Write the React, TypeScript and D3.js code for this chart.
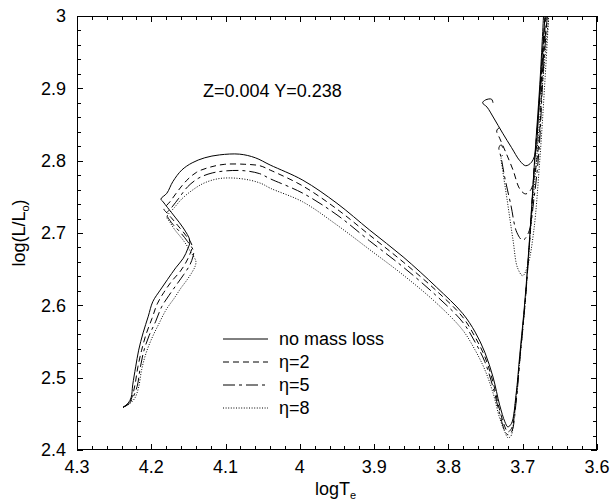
import React from "react";
import * as d3 from "d3";

// ---- axis ticks ----
const xTickValues = [4.3, 4.2, 4.1, 4.0, 3.9, 3.8, 3.7, 3.6];
const xTickLabels = ["4.3", "4.2", "4.1", "4", "3.9", "3.8", "3.7", "3.6"];
const yTickValues = [2.4, 2.5, 2.6, 2.7, 2.8, 2.9, 3.0];
const yTickLabels = ["2.4", "2.5", "2.6", "2.7", "2.8", "2.9", "3"];

// ---- legend ----
const seriesNames = ["no mass loss", "η=2", "η=5", "η=8"];

// ---- tracks: [logTe, log(L/Lsun)] ----
const noMassLossTrack: [number, number][] = [
  [4.238, 2.459], [4.231, 2.465], [4.227, 2.473], [4.225, 2.49], [4.221, 2.515], [4.217, 2.538],
  [4.211, 2.562], [4.204, 2.585], [4.198, 2.605], [4.188, 2.621], [4.178, 2.636], [4.167, 2.652],
  [4.157, 2.665], [4.151, 2.678], [4.148, 2.689],
  [4.157, 2.707], [4.168, 2.722], [4.178, 2.735], [4.184, 2.743], [4.187, 2.747],
  [4.179, 2.755], [4.171, 2.771], [4.159, 2.787], [4.145, 2.797], [4.128, 2.804], [4.108, 2.808],
  [4.081, 2.809], [4.06, 2.804], [4.04, 2.794],
  [3.996, 2.773], [3.95, 2.741], [3.906, 2.704], [3.861, 2.667], [3.816, 2.625], [3.781, 2.589],
  [3.764, 2.563], [3.751, 2.535], [3.74, 2.501], [3.731, 2.462], [3.724, 2.439], [3.72, 2.432],
  [3.715, 2.437], [3.709, 2.476], [3.704, 2.531], [3.697, 2.607], [3.69, 2.704], [3.684, 2.801],
  [3.677, 2.905], [3.672, 3.0],
];
const noMassLossLoop: [number, number][] = [
  [3.67, 3.0], [3.676, 2.912], [3.68, 2.843], [3.682, 2.815], [3.688, 2.798], [3.696, 2.793],
  [3.704, 2.8], [3.715, 2.818], [3.727, 2.838], [3.739, 2.859], [3.748, 2.874], [3.754, 2.88],
  [3.75, 2.884], [3.742, 2.885], [3.74, 2.88],
];

const eta2Track: [number, number][] = [
  [4.238, 2.459], [4.23, 2.465], [4.226, 2.473], [4.222, 2.49], [4.218, 2.515], [4.213, 2.538],
  [4.207, 2.56], [4.199, 2.582], [4.192, 2.602], [4.183, 2.618], [4.172, 2.634], [4.161, 2.647],
  [4.153, 2.66], [4.148, 2.671], [4.145, 2.682],
  [4.153, 2.696], [4.164, 2.71], [4.173, 2.721], [4.18, 2.729], [4.183, 2.733],
  [4.175, 2.743], [4.165, 2.757], [4.153, 2.772], [4.139, 2.784], [4.121, 2.791], [4.101, 2.795],
  [4.074, 2.795], [4.054, 2.793], [4.04, 2.787],
  [3.996, 2.765], [3.95, 2.733], [3.906, 2.697], [3.861, 2.66], [3.816, 2.62], [3.781, 2.584],
  [3.764, 2.556], [3.751, 2.529], [3.74, 2.494], [3.731, 2.455], [3.724, 2.432], [3.72, 2.425],
  [3.715, 2.43], [3.709, 2.469], [3.704, 2.526], [3.697, 2.603], [3.69, 2.701], [3.684, 2.798],
  [3.676, 2.902], [3.67, 3.0],
];
const eta2Loop: [number, number][] = [
  [3.669, 3.0], [3.674, 2.912], [3.678, 2.829], [3.684, 2.78], [3.689, 2.76], [3.696, 2.754],
  [3.704, 2.761], [3.713, 2.787], [3.723, 2.812], [3.731, 2.831], [3.735, 2.841], [3.732, 2.845],
  [3.728, 2.842],
];

const eta5Track: [number, number][] = [
  [4.238, 2.459], [4.23, 2.464], [4.225, 2.472], [4.219, 2.488], [4.215, 2.513], [4.21, 2.537],
  [4.203, 2.558], [4.194, 2.578], [4.186, 2.598], [4.176, 2.614], [4.165, 2.63], [4.156, 2.643],
  [4.148, 2.656], [4.144, 2.667], [4.143, 2.675],
  [4.151, 2.688], [4.161, 2.701], [4.171, 2.712], [4.178, 2.722], [4.18, 2.726],
  [4.172, 2.736], [4.163, 2.748], [4.151, 2.764], [4.136, 2.776], [4.118, 2.783], [4.098, 2.786],
  [4.074, 2.786], [4.054, 2.782], [4.04, 2.775],
  [3.996, 2.755], [3.95, 2.725], [3.906, 2.689], [3.861, 2.653], [3.816, 2.613], [3.781, 2.577],
  [3.764, 2.549], [3.751, 2.522], [3.74, 2.487], [3.731, 2.45], [3.724, 2.426], [3.72, 2.421],
  [3.715, 2.425], [3.709, 2.465], [3.704, 2.523], [3.697, 2.6], [3.69, 2.699], [3.684, 2.795],
  [3.676, 2.9], [3.667, 3.0],
];
const eta5Loop: [number, number][] = [
  [3.667, 3.0], [3.673, 2.912], [3.678, 2.815], [3.685, 2.746], [3.692, 2.701], [3.7, 2.69],
  [3.708, 2.701], [3.716, 2.739], [3.724, 2.776], [3.729, 2.804], [3.732, 2.818], [3.729, 2.822],
  [3.727, 2.818],
];

const eta8Track: [number, number][] = [
  [4.238, 2.459], [4.229, 2.464], [4.222, 2.472], [4.217, 2.487], [4.213, 2.511], [4.207, 2.534],
  [4.199, 2.555], [4.19, 2.574], [4.18, 2.594], [4.169, 2.61], [4.16, 2.624], [4.152, 2.635],
  [4.145, 2.646], [4.141, 2.654], [4.14, 2.661],
  [4.147, 2.674], [4.157, 2.69], [4.168, 2.704], [4.175, 2.715], [4.179, 2.722],
  [4.169, 2.735], [4.159, 2.747], [4.145, 2.759], [4.129, 2.769], [4.11, 2.775], [4.09, 2.776],
  [4.067, 2.773], [4.051, 2.768], [4.04, 2.762],
  [3.996, 2.743], [3.95, 2.711], [3.906, 2.677], [3.861, 2.642], [3.816, 2.603], [3.781, 2.566],
  [3.764, 2.538], [3.751, 2.511], [3.74, 2.479], [3.731, 2.444], [3.724, 2.425], [3.72, 2.417],
  [3.716, 2.419], [3.711, 2.455], [3.704, 2.524], [3.697, 2.6], [3.69, 2.697], [3.682, 2.794],
  [3.674, 2.898], [3.665, 3.0],
];
const eta8Loop: [number, number][] = [
  [3.665, 3.0], [3.67, 2.912], [3.677, 2.801], [3.685, 2.704], [3.693, 2.656], [3.7, 2.641],
  [3.707, 2.652], [3.713, 2.69], [3.721, 2.746], [3.727, 2.787], [3.729, 2.804], [3.727, 2.808],
];

const dashes = ["", "6,4", "12,4,3,4", "1,1.6"];
const tracks = [noMassLossTrack, eta2Track, eta5Track, eta8Track];
const loops = [noMassLossLoop, eta2Loop, eta5Loop, eta8Loop];

const FONT = "'Liberation Sans', Arial, Helvetica, sans-serif";

export default function App() {
  const W = 612, H = 502;
  const left = 77, right = 597, top = 16, bottom = 450;
  const x = d3.scaleLinear().domain([4.3, 3.6]).range([left, right]);
  const y = d3.scaleLinear().domain([2.4, 3.0]).range([bottom, top]);
  const line = d3
    .line<[number, number]>()
    .x((d) => x(d[0]))
    .y((d) => y(d[1]))
    .curve(d3.curveCatmullRom.alpha(0.5));

  const xMinor = d3.range(0, 36).map((i) => 4.3 - i * 0.02);
  const yMinor = d3.range(0, 31).map((i) => 2.4 + i * 0.02);
  const isMajor = (v: number) => Math.abs(v * 10 - Math.round(v * 10)) < 1e-6;

  const legendX1 = 223, legendX2 = 268, legendText = 279;
  const legendY = [339, 362, 385, 408];

  return (
    <svg
      width={W}
      height={H}
      style={{ position: "absolute", left: 0, top: 0, background: "#fff" }}
      fontFamily={FONT}
    >
      <defs>
        <clipPath id="plotClip">
          <rect x={left} y={top} width={right - left} height={bottom - top} />
        </clipPath>
      </defs>
      <rect x={0} y={0} width={W} height={H} fill="#fff" />

      {/* ticks */}
      <g stroke="#000" strokeWidth={1}>
        {xMinor.map((v, i) => {
          const len = isMajor(v) ? 6 : 4;
          const px = Math.round(x(v)) + 0.5;
          return (
            <g key={"xt" + i}>
              <line x1={px} x2={px} y1={bottom} y2={bottom - len} />
              <line x1={px} x2={px} y1={top} y2={top + len} />
            </g>
          );
        })}
        {yMinor.map((v, i) => {
          const len = isMajor(v) ? 6 : 4;
          const py = Math.round(y(v)) + 0.5;
          return (
            <g key={"yt" + i}>
              <line x1={left} x2={left + len} y1={py} y2={py} />
              <line x1={right} x2={right - len} y1={py} y2={py} />
            </g>
          );
        })}
      </g>

      {/* tick labels */}
      <g fontSize={18} fill="#000">
        {xTickValues.map((v, i) => (
          <text key={"xl" + i} x={x(v)} y={473} textAnchor="middle">
            {xTickLabels[i]}
          </text>
        ))}
        {yTickValues.map((v, i) => (
          <text key={"yl" + i} x={66} y={y(v)} dy="0.36em" textAnchor="end">
            {yTickLabels[i]}
          </text>
        ))}
      </g>

      {/* axis titles */}
      <text x={315} y={495} fontSize={18} fill="#000">
        logT
        <tspan fontSize={11} dy={4}>e</tspan>
      </text>
      <text transform="translate(25,233) rotate(-90)" textAnchor="middle" fontSize={18} fill="#000">
        log(L/L
        <tspan fontSize={11} dy={4}>o</tspan>
        <tspan dy={-4}>)</tspan>
      </text>

      {/* annotation */}
      <text x={203} y={97} fontSize={18} fill="#000">
        Z=0.004 Y=0.238
      </text>

      {/* tracks */}
      <g clipPath="url(#plotClip)" fill="none" stroke="#000" strokeWidth={1}>
        {tracks.map((t, i) => (
          <path key={"tr" + i} d={line(t) || ""} strokeDasharray={dashes[i] || undefined} />
        ))}
        {loops.map((t, i) => (
          <path key={"lp" + i} d={line(t) || ""} strokeDasharray={dashes[i] || undefined} />
        ))}
      </g>

      {/* legend */}
      <g fontSize={18} fill="#000">
        {seriesNames.map((n, i) => (
          <g key={"lg" + i}>
            <line
              x1={legendX1}
              x2={legendX2}
              y1={legendY[i]}
              y2={legendY[i]}
              stroke="#000"
              strokeWidth={1}
              strokeDasharray={dashes[i] || undefined}
            />
            <text x={legendText} y={legendY[i]} dy="0.36em">
              {n}
            </text>
          </g>
        ))}
      </g>

      {/* frame */}
      <rect x={left + 0.5} y={top + 0.5} width={right - left - 1} height={bottom - top - 1} fill="none" stroke="#000" strokeWidth={1} />
    </svg>
  );
}
